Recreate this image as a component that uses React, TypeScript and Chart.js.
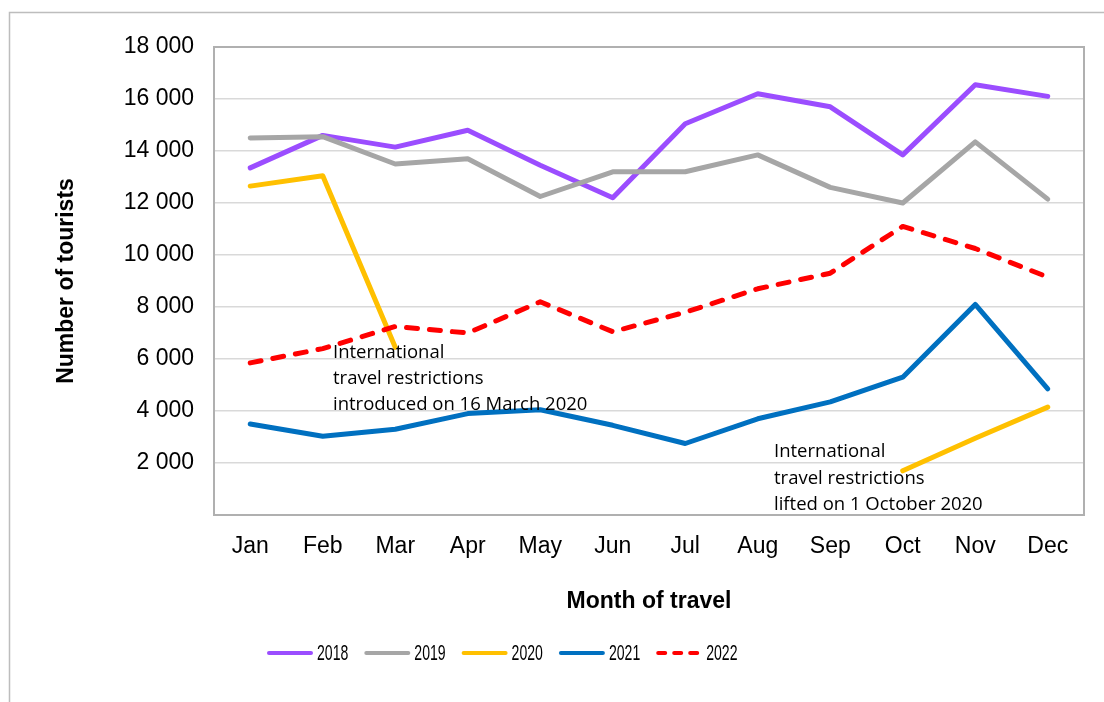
import React, { useEffect, useRef } from 'react';
import { Chart, registerables } from 'chart.js';

Chart.register(...registerables);

const months = ['Jan', 'Feb', 'Mar', 'Apr', 'May', 'Jun', 'Jul', 'Aug', 'Sep', 'Oct', 'Nov', 'Dec'];
const years = ['2018', '2019', '2020', '2021', '2022'];

const tourists2018 = [13350, 14600, 14150, 14800, 13450, 12200, 15050, 16200, 15700, 13850, 16550, 16100];
const tourists2019 = [14500, 14550, 13500, 13700, 12250, 13200, 13200, 13850, 12600, 12000, 14350, 12150];
const tourists2020 = [12650, 13050, 6450, null, null, null, null, null, null, 1700, 2950, 4150];
const tourists2021 = [3500, 3030, 3300, 3900, 4050, 3450, 2750, 3700, 4350, 5300, 8100, 4850];
const tourists2022 = [5850, 6400, 7250, 7000, 8200, 7050, 7800, 8700, 9300, 11100, 10250, 9150];

const yMin = 0;
const yMax = 18000;
const yStep = 2000;

const seriesColors = ['#9b4dff', '#a6a6a6', '#ffc000', '#0070c0', '#ff0000'];

const note1 = ['International', 'travel restrictions', 'introduced on 16 March 2020'];
const note2 = ['International', 'travel restrictions', 'lifted on 1 October 2020'];

const fmt = (v: number) => String(v).replace(/\B(?=(\d{3})+(?!\d))/g, '\u00a0');

export default function App() {
  const ref = useRef<HTMLCanvasElement | null>(null);

  useEffect(() => {
    const canvas = ref.current;
    if (!canvas) return;
    const allSeries = [tourists2018, tourists2019, tourists2020, tourists2021, tourists2022];

    const framePlugin = {
      id: 'frame',
      beforeDraw(chart: any) {
        const ctx = chart.ctx;
        ctx.save();
        ctx.fillStyle = '#ffffff';
        ctx.fillRect(0, 0, chart.width, chart.height);
        ctx.strokeStyle = '#bdbdbd';
        ctx.lineWidth = 1.5;
        ctx.strokeRect(9.5, 12.5, 3000, 3000);
        ctx.restore();
      },
      beforeDatasetsDraw(chart: any) {
        const { ctx, chartArea } = chart;
        ctx.save();
        ctx.strokeStyle = '#b0b0b0';
        ctx.lineWidth = 2;
        ctx.strokeRect(chartArea.left, chartArea.top, chartArea.right - chartArea.left, chartArea.bottom - chartArea.top);
        ctx.restore();
      },
    };

    const notesPlugin = {
      id: 'notes',
      afterDatasetsDraw(chart: any) {
        const ctx = chart.ctx;
        ctx.save();
        ctx.fillStyle = '#000000';
        ctx.font = '18.5px "Open Sans", sans-serif';
        ctx.textBaseline = 'middle';
        ctx.textAlign = 'left';
        note1.forEach((t, i) => ctx.fillText(t, 333, 353 + i * 26));
        note2.forEach((t, i) => ctx.fillText(t, 774, 452 + i * 26.5));
        ctx.restore();
      },
    };

    const legendPlugin = {
      id: 'customLegend',
      afterDraw(chart: any) {
        const ctx = chart.ctx;
        const y = 653;
        const startX = 267;
        const spacing = 97.3;
        ctx.save();
        chart.data.datasets.forEach((ds: any, i: number) => {
          const x = startX + i * spacing;
          ctx.strokeStyle = ds.borderColor;
          ctx.lineWidth = 4;
          ctx.lineCap = 'round';
          ctx.beginPath();
          if (ds.borderDash && ds.borderDash.length) {
            ctx.setLineDash([7, 9]);
            ctx.moveTo(x + 2, y);
            ctx.lineTo(x + 41, y);
          } else {
            ctx.setLineDash([]);
            ctx.moveTo(x + 2, y);
            ctx.lineTo(x + 44, y);
          }
          ctx.stroke();
          ctx.setLineDash([]);
          ctx.fillStyle = '#000000';
          ctx.font = '22px "Liberation Sans", Arial, sans-serif';
          ctx.textBaseline = 'middle';
          ctx.textAlign = 'left';
          ctx.save();
          ctx.translate(x + 50, y + 1);
          ctx.scale(0.64, 1);
          ctx.fillText(ds.label, 0, 0);
          ctx.restore();
        });
        ctx.restore();
      },
    };

    const chart = new Chart(canvas, {
      type: 'line',
      data: {
        labels: months,
        datasets: years.map((yr, i) => ({
          label: yr,
          data: allSeries[i],
          borderColor: seriesColors[i],
          backgroundColor: seriesColors[i],
          borderWidth: 5,
          borderCapStyle: 'round',
          borderJoinStyle: 'round',
          borderDash: i === 4 ? [11, 12] : [],
          pointRadius: 0,
          pointHoverRadius: 0,
          tension: 0,
          spanGaps: false,
          fill: false,
          order: 5 - i,
        })),
      },
      options: {
        responsive: false,
        animation: false,
        devicePixelRatio: 1,
        layout: { padding: { left: 0, top: 47, right: 20, bottom: 87 } },
        plugins: {
          legend: { display: false },
          tooltip: { enabled: false },
          title: { display: false },
        },
        scales: {
          x: {
            type: 'category',
            offset: true,
            afterFit: (scale: any) => {
              scale.height = 100;
            },
            grid: { display: false, drawTicks: false },
            border: { display: false },
            ticks: {
              color: '#000000',
              padding: 18,
              maxRotation: 0,
              font: { family: '"Liberation Sans", Arial, sans-serif', size: 23 },
            },
            title: {
              display: true,
              text: 'Month of travel',
              color: '#000000',
              padding: { top: 0, bottom: 0 },
              font: { family: '"Liberation Sans", Arial, sans-serif', size: 23, weight: 'bold' },
            },
          },
          y: {
            min: yMin,
            max: yMax,
            afterFit: (scale: any) => {
              scale.width = 214;
            },
            grid: { color: '#d9d9d9', lineWidth: 1.5, drawTicks: false },
            border: { display: false },
            ticks: {
              stepSize: yStep,
              color: '#000000',
              padding: 20,
              font: { family: '"Liberation Sans", Arial, sans-serif', size: 23 },
              callback: (v: any) => (Number(v) === 0 ? '' : fmt(Number(v))),
            },
            title: {
              display: true,
              text: 'Number of tourists',
              color: '#000000',
              padding: { top: 53, bottom: 0 },
              font: { family: '"Liberation Sans", Arial, sans-serif', size: 23, weight: 'bold' },
            },
          },
        },
      },
      plugins: [framePlugin, notesPlugin, legendPlugin],
    } as any);

    return () => chart.destroy();
  }, []);

  return (
    <canvas
      ref={ref}
      width={1104}
      height={702}
      style={{ position: 'absolute', left: 0, top: 0, width: 1104, height: 702, display: 'block' }}
    />
  );
}
